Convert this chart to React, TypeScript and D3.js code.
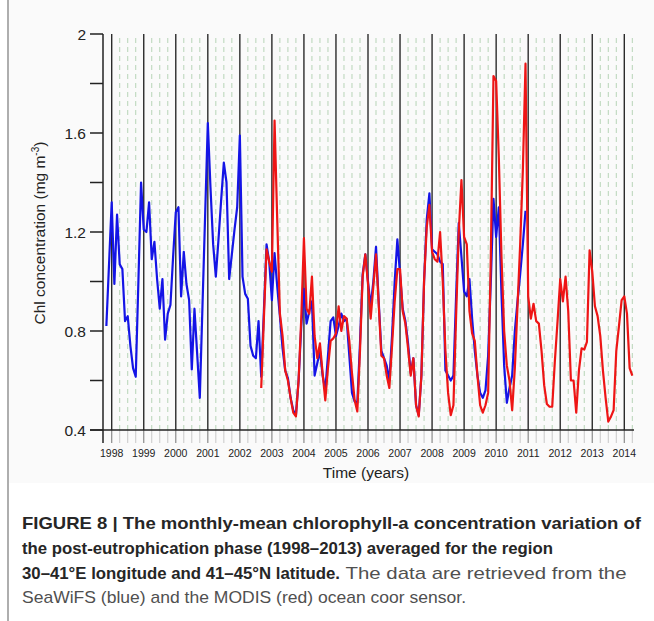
import React from "react";
import * as d3 from "d3";

// ---------- data (monthly means, mg m^-3) ----------
// SeaWiFS (blue) starts Nov 1997
const SEAWIFS_START: [number, number] = [1997, 11];
const seawifs1997 = [0.82, 1.07];
const seawifs1998 = [1.32, 0.99, 1.27, 1.07, 1.05, 0.84, 0.86, 0.74, 0.65, 0.615, 1.0, 1.4];
const seawifs1999 = [1.21, 1.2, 1.32, 1.09, 1.16, 1.01, 0.89, 1.01, 0.765, 0.87, 0.905, 1.1];
const seawifs2000 = [1.28, 1.3, 0.94, 1.12, 0.99, 0.925, 0.645, 0.89, 0.71, 0.53, 0.9, 1.27];
const seawifs2001 = [1.64, 1.38, 1.15, 1.02, 1.17, 1.33, 1.48, 1.4, 1.01, 1.11, 1.21, 1.3];
const seawifs2002 = [1.59, 1.02, 0.95, 0.93, 0.74, 0.7, 0.69, 0.84, 0.615, 0.88, 1.15, 1.08];
const seawifs2003 = [0.925, 1.115, 0.98, 0.86, 0.73, 0.64, 0.61, 0.53, 0.48, 0.46, 0.6, 0.82];
const seawifs2004 = [0.97, 0.83, 0.88, 0.92, 0.62, 0.67, 0.72, 0.62, 0.56, 0.7, 0.84, 0.855];
const seawifs2005 = [0.78, 0.82, 0.87, 0.84, 0.85, 0.7, 0.55, 0.515, 0.51, 0.75, 1.03, 1.11];
const seawifs2006 = [1.0, 0.9, 1.0, 1.14, 0.92, 0.72, 0.69, 0.66, 0.6, 0.78, 1.0, 1.17];
const seawifs2007 = [1.03, 0.89, 0.84, 0.75, 0.63, 0.69, 0.5, 0.46, 0.62, 1.0, 1.25, 1.356];
const seawifs2008 = [1.13, 1.12, 1.11, 1.08, 1.07, 0.64, 0.62, 0.6, 0.62, 0.94, 1.236, 1.1];
const seawifs2009 = [0.96, 0.94, 1.01, 0.85, 0.72, 0.62, 0.55, 0.53, 0.56, 0.7, 1.0, 1.334];
const seawifs2010 = [1.18, 1.3, 0.95, 0.66, 0.51, 0.57, 0.62, 0.8, 0.92, 1.03, 1.15, 1.286];

// MODIS (red) starts Sep 2002
const MODIS_START: [number, number] = [2002, 9];
const modis2002 = [0.57, 0.85, 1.13, 1.08];
const modis2003 = [1.04, 1.65, 1.25, 0.87, 0.78, 0.64, 0.6, 0.53, 0.47, 0.455, 0.6, 0.85];
const modis2004 = [1.175, 0.89, 0.87, 1.02, 0.78, 0.69, 0.75, 0.63, 0.52, 0.65, 0.76, 0.77];
const modis2005 = [0.79, 0.9, 0.8, 0.86, 0.85, 0.76, 0.63, 0.52, 0.475, 0.72, 1.02, 1.11];
const modis2006 = [0.99, 0.85, 0.98, 1.11, 0.91, 0.7, 0.69, 0.62, 0.57, 0.74, 0.92, 1.05];
const modis2007 = [1.05, 0.88, 0.83, 0.73, 0.62, 0.69, 0.5, 0.455, 0.62, 1.0, 1.22, 1.31];
const modis2008 = [1.12, 1.09, 1.08, 1.2, 1.0, 0.72, 0.55, 0.46, 0.5, 0.86, 1.2, 1.41];
const modis2009 = [1.18, 1.15, 0.88, 0.79, 0.76, 0.62, 0.5, 0.47, 0.5, 0.55, 1.1, 1.83];
const modis2010 = [1.81, 1.5, 1.1, 0.8, 0.66, 0.6, 0.48, 0.65, 0.9, 1.15, 1.45, 1.88];
const modis2011 = [0.94, 0.85, 0.91, 0.84, 0.83, 0.72, 0.58, 0.505, 0.494, 0.494, 0.68, 0.84];
const modis2012 = [1.01, 0.92, 1.02, 0.88, 0.6, 0.6, 0.47, 0.64, 0.73, 0.725, 0.756, 1.126];
const modis2013 = [1.04, 0.9, 0.86, 0.78, 0.64, 0.53, 0.434, 0.454, 0.48, 0.72, 0.82, 0.925];
const modis2014 = [0.94, 0.87, 0.65, 0.62];

const seawifs = [
  ...seawifs1997, ...seawifs1998, ...seawifs1999, ...seawifs2000, ...seawifs2001,
  ...seawifs2002, ...seawifs2003, ...seawifs2004, ...seawifs2005, ...seawifs2006,
  ...seawifs2007, ...seawifs2008, ...seawifs2009, ...seawifs2010,
];
const modis = [
  ...modis2002, ...modis2003, ...modis2004, ...modis2005, ...modis2006, ...modis2007,
  ...modis2008, ...modis2009, ...modis2010, ...modis2011, ...modis2012, ...modis2013,
  ...modis2014,
];

// ---------- ticks / labels ----------
const YEAR_TICKS = [1998, 1999, 2000, 2001, 2002, 2003, 2004, 2005, 2006, 2007, 2008, 2009, 2010, 2011, 2012, 2013, 2014];
const Y_MAJOR = [0.4, 0.8, 1.2, 1.6, 2];
const Y_MINOR = [0.6, 1.0, 1.4, 1.8];
const X_TITLE = "Time (years)";
const Y_TITLE = "Chl concentration (mg m";
const CAPTION_1 = "FIGURE 8 | The monthly-mean chlorophyll-a concentration variation of";
const CAPTION_2 = "the post-eutrophication phase (1998–2013) averaged for the region";
const CAPTION_3B = "30–41°E longitude and 41–45°N latitude.";
const CAPTION_3N = "The data are retrieved from the";
const CAPTION_4 = "SeaWiFS (blue) and the MODIS (red) ocean coor sensor.";

type Pt = { t: number; v: number };
const toPoints = (vals: number[], start: [number, number]): Pt[] =>
  vals.map((v, i) => ({ t: start[0] + (start[1] - 1 + i) / 12, v }));

export default function App() {
  const W = 654;
  const H = 621;
  const x = d3.scaleLinear().domain([1998, 2014]).range([111.7, 624.3]);
  const y = d3.scaleLinear().domain([0.4, 2]).range([430, 34]);
  const axisX = 103;
  const plotRight = 634;
  const yTop = y(2);
  const yBottom = y(0.4);

  const line = d3
    .line<Pt>()
    .x((d) => x(d.t))
    .y((d) => y(d.v));

  const quarters: number[] = [];
  YEAR_TICKS.forEach((yr) => {
    [0.25, 0.5, 0.75].forEach((q) => {
      if (x(yr + q) <= plotRight) quarters.push(yr + q);
    });
  });

  const font = "'Liberation Sans', Arial, Helvetica, sans-serif";

  return (
    <svg
      width={W}
      height={H}
      style={{ position: "absolute", left: 0, top: 0, background: "#fff" }}
      fontFamily={font}
    >
      <rect x={0} y={0} width={W} height={H} fill="#ffffff" />
      <rect x={9} y={0} width={W - 9} height={483} fill="#fafafa" />
      <line x1={8} x2={8} y1={0} y2={H} stroke="#9a9a9a" strokeWidth={1.6} />

      {/* quarter dashed lines */}
      {quarters.map((q) => (
        <g key={"q" + q}>
          <line
            x1={x(q)}
            x2={x(q)}
            y1={yTop + 4}
            y2={yBottom}
            stroke="#b7d4b7"
            strokeWidth={1}
            strokeDasharray="5,4"
          />
          <line x1={x(q)} x2={x(q)} y1={yBottom} y2={yBottom + 13} stroke="#c8c8c8" strokeWidth={1} />
        </g>
      ))}

      {/* year lines */}
      {YEAR_TICKS.map((yr) => (
        <g key={"y" + yr}>
          <line x1={x(yr)} x2={x(yr)} y1={yTop} y2={yBottom} stroke="#2b2b2b" strokeWidth={1.4} />
          <line x1={x(yr)} x2={x(yr)} y1={yBottom} y2={yBottom + 13} stroke="#8a8a8a" strokeWidth={1.2} />
          <text x={x(yr)} y={457} fontSize={10.5} textAnchor="middle" fill="#222">
            {yr}
          </text>
        </g>
      ))}

      {/* axes */}
      <line x1={axisX} x2={axisX} y1={yTop} y2={yBottom + 13} stroke="#222" strokeWidth={1.5} />
      <line x1={90} x2={plotRight} y1={yBottom} y2={yBottom} stroke="#222" strokeWidth={1.5} />
      {[...Y_MAJOR, ...Y_MINOR].map((v) => (
        <line key={"yt" + v} x1={90} x2={axisX} y1={y(v)} y2={y(v)} stroke="#222" strokeWidth={1.5} />
      ))}
      {Y_MAJOR.map((v) => (
        <text key={"yl" + v} x={86} y={y(v) + 5.5} fontSize={15.5} textAnchor="end" fill="#222">
          {String(v)}
        </text>
      ))}

      {/* data */}
      <path d={line(toPoints(seawifs, SEAWIFS_START)) || ""} fill="none" stroke="#1414e6" strokeWidth={2.2} strokeLinejoin="round" />
      <path d={line(toPoints(modis, MODIS_START)) || ""} fill="none" stroke="#ee1515" strokeWidth={2.2} strokeLinejoin="round" />

      {/* titles */}
      <text x={366} y={478} fontSize={15.5} textAnchor="middle" fill="#222">
        {X_TITLE}
      </text>
      <text transform={`translate(45,233) rotate(-90)`} fontSize={15.5} textAnchor="middle" fill="#222">
        {Y_TITLE}
        <tspan fontSize={10} dy={-6}>-3</tspan>
        <tspan dy={6}>)</tspan>
      </text>

      {/* caption */}
      <text x={22} y={528.5} fontSize={17} fontWeight="bold" fill="#262626" textLength={619} lengthAdjust="spacingAndGlyphs">
        {CAPTION_1}
      </text>
      <text x={22} y={553.5} fontSize={17} fontWeight="bold" fill="#262626" textLength={531} lengthAdjust="spacingAndGlyphs">
        {CAPTION_2}
      </text>
      <text x={22} y={578.5} fontSize={17} fontWeight="bold" fill="#262626" textLength={318} lengthAdjust="spacingAndGlyphs">
        {CAPTION_3B}
      </text>
      <text x={345.5} y={578.5} fontSize={17} fill="#505050" textLength={281} lengthAdjust="spacingAndGlyphs">
        {CAPTION_3N}
      </text>
      <text x={22} y={602.5} fontSize={17} fill="#505050" textLength={444} lengthAdjust="spacingAndGlyphs">
        {CAPTION_4}
      </text>
    </svg>
  );
}
